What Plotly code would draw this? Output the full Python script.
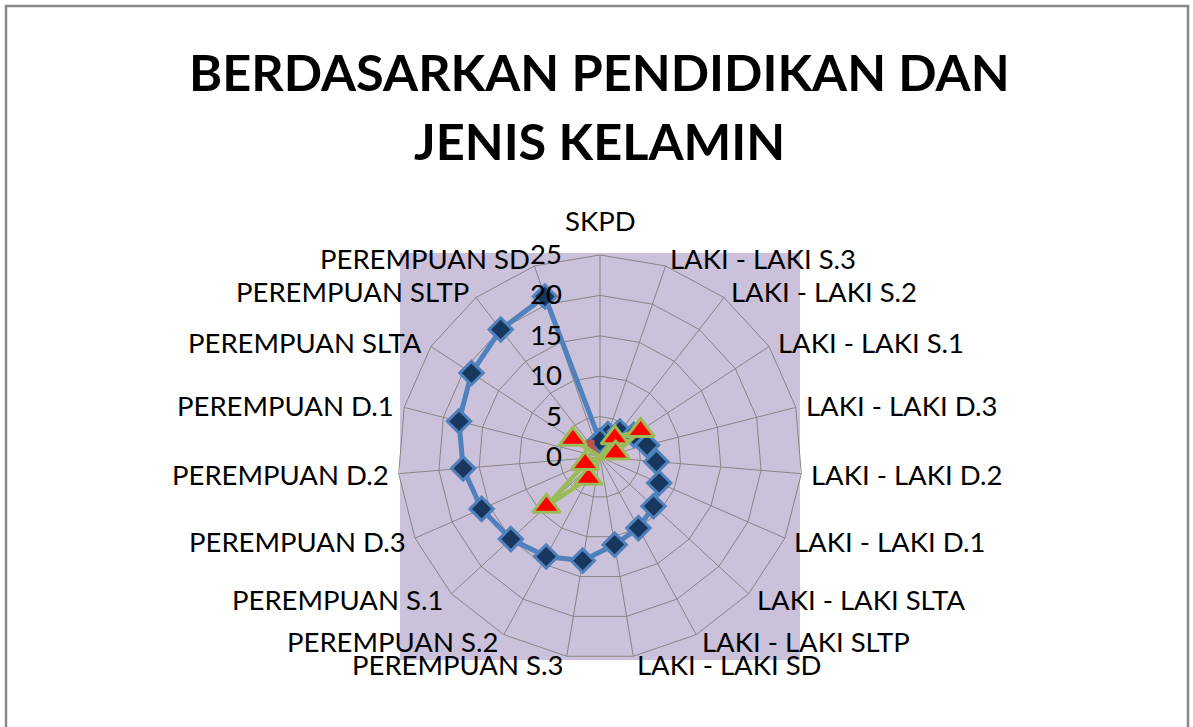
import math
import plotly.graph_objects as go

categories = [
    "SKPD",
    "LAKI - LAKI S.3", "LAKI - LAKI S.2", "LAKI - LAKI S.1", "LAKI - LAKI D.3",
    "LAKI - LAKI D.2", "LAKI - LAKI D.1", "LAKI - LAKI SLTA", "LAKI - LAKI SLTP",
    "LAKI - LAKI SD",
    "PEREMPUAN S.3", "PEREMPUAN S.2", "PEREMPUAN S.1", "PEREMPUAN D.3",
    "PEREMPUAN D.2", "PEREMPUAN D.1", "PEREMPUAN SLTA", "PEREMPUAN SLTP",
    "PEREMPUAN SD",
]
series1 = [2, 3, 4, 5, 6, 7, 8, 9, 10, 11, 13, 14, 15, 16, 17, 18, 19, 20, 21]
series2 = [0, 0, 0, 0, 0, 0, 0, 0, 0, 0, 0, 0, 0, 0, 0, 0, 0, 2, 0]
series3 = [0, 0, 3, 6, 2, 0, 0, 0, 0, 0, 0, 3, 9, 2, 0, 0, 4, 0, 0]
radial_ticks = [0, 5, 10, 15, 20, 25]

W, H = 1193, 727
FONT = "Lato"
LABEL_SIZE = 27.5

def close(v):
    return list(v) + [v[0]]

cats_closed = close(categories)

fig = go.Figure()
fig.add_trace(go.Scatterpolar(
    r=close(series1), theta=cats_closed, mode="lines+markers",
    line=dict(color="#4F81BD", width=5),
    marker=dict(symbol="diamond", size=18, color="#17375E",
                line=dict(color="#4F81BD", width=3)),
    showlegend=False, cliponaxis=False, hoverinfo="skip",
))
fig.add_trace(go.Scatterpolar(
    r=close(series2), theta=cats_closed, mode="lines+markers",
    line=dict(color="#C0504D", width=3),
    marker=dict(symbol="square", size=8, color="#C0504D",
                line=dict(color="#C0504D", width=1)),
    showlegend=False, cliponaxis=False, hoverinfo="skip",
))
fig.add_trace(go.Scatterpolar(
    r=close(series3), theta=cats_closed, mode="lines+markers",
    line=dict(color="#9BBB59", width=4.5),
    marker=dict(symbol="triangle-up", size=24, color="#FF0000",
                line=dict(color="#9BBB59", width=3)),
    showlegend=False, cliponaxis=False, hoverinfo="skip",
))

# geometry in pixels
cx, cy, R = 600, 457, 202
px = lambda x: x / W
py = lambda y: 1 - y / H

# category labels placed around the polygon (Excel-style placement)
annotations = []
n = len(categories)
for i, name in enumerate(categories):
    th = math.radians(i * 360.0 / n)
    s, c = math.sin(th), math.cos(th)
    vx, vy = cx + R * s, cy - R * c
    pad = 8
    if abs(s) < 0.05:
        ax_, ay_, xa, ya = vx, vy - 34, "center", "middle"
    else:
        ax_, ay_ = vx + pad * s, vy - pad * c
        xa = "left" if s > 0 else "right"
        ya = "middle"
    annotations.append(dict(
        text=name, x=px(ax_), y=py(ay_), xref="paper", yref="paper",
        showarrow=False, xanchor=xa, yanchor=ya,
        font=dict(size=LABEL_SIZE, family=FONT, color="#000000"),
    ))

annotations += [
    dict(text="<b>BERDASARKAN PENDIDIKAN DAN</b>", x=px(599), y=py(72),
         xref="paper", yref="paper", showarrow=False,
         font=dict(size=50.5, family=FONT, color="#000000"),
         xanchor="center", yanchor="middle"),
    dict(text="<b>JENIS KELAMIN</b>", x=px(599), y=py(141),
         xref="paper", yref="paper", showarrow=False,
         font=dict(size=50.5, family=FONT, color="#000000"),
         xanchor="center", yanchor="middle"),
]

fig.update_layout(
    width=W, height=H,
    margin=dict(l=0, r=0, t=0, b=0),
    paper_bgcolor="white",
    font=dict(family=FONT, color="#000000"),
    polar=dict(
        domain=dict(x=[px(cx - R), px(cx + R)], y=[py(cy + R), py(cy - R)]),
        bgcolor="rgba(0,0,0,0)",
        gridshape="linear",
        angularaxis=dict(
            rotation=90, direction="clockwise",
            showline=True, linecolor="#868686", linewidth=1,
            gridcolor="#868686", gridwidth=1,
            ticks="", showticklabels=False,
        ),
        radialaxis=dict(
            range=[0, 25], tickvals=radial_ticks, angle=90, tickangle=90,
            side="counterclockwise", showline=False,
            gridcolor="#868686", gridwidth=1,
            ticks="outside", ticklen=28, tickcolor="rgba(0,0,0,0)",
            tickfont=dict(size=LABEL_SIZE, family=FONT, color="#000000"),
        ),
    ),
    shapes=[
        dict(type="rect", xref="paper", yref="paper", layer="below",
             x0=px(400), x1=px(800), y0=py(660), y1=py(253),
             fillcolor="#CCC1DA", line=dict(width=0)),
        dict(type="rect", xref="paper", yref="paper", layer="above",
             x0=px(6), x1=px(1188), y0=py(740), y1=py(6),
             fillcolor="rgba(0,0,0,0)", line=dict(color="#898989", width=2.5)),
    ],
    annotations=annotations,
)

fig.write_html("out.html", config={"displayModeBar": False},
               post_script="document.body.style.margin='0px';")
